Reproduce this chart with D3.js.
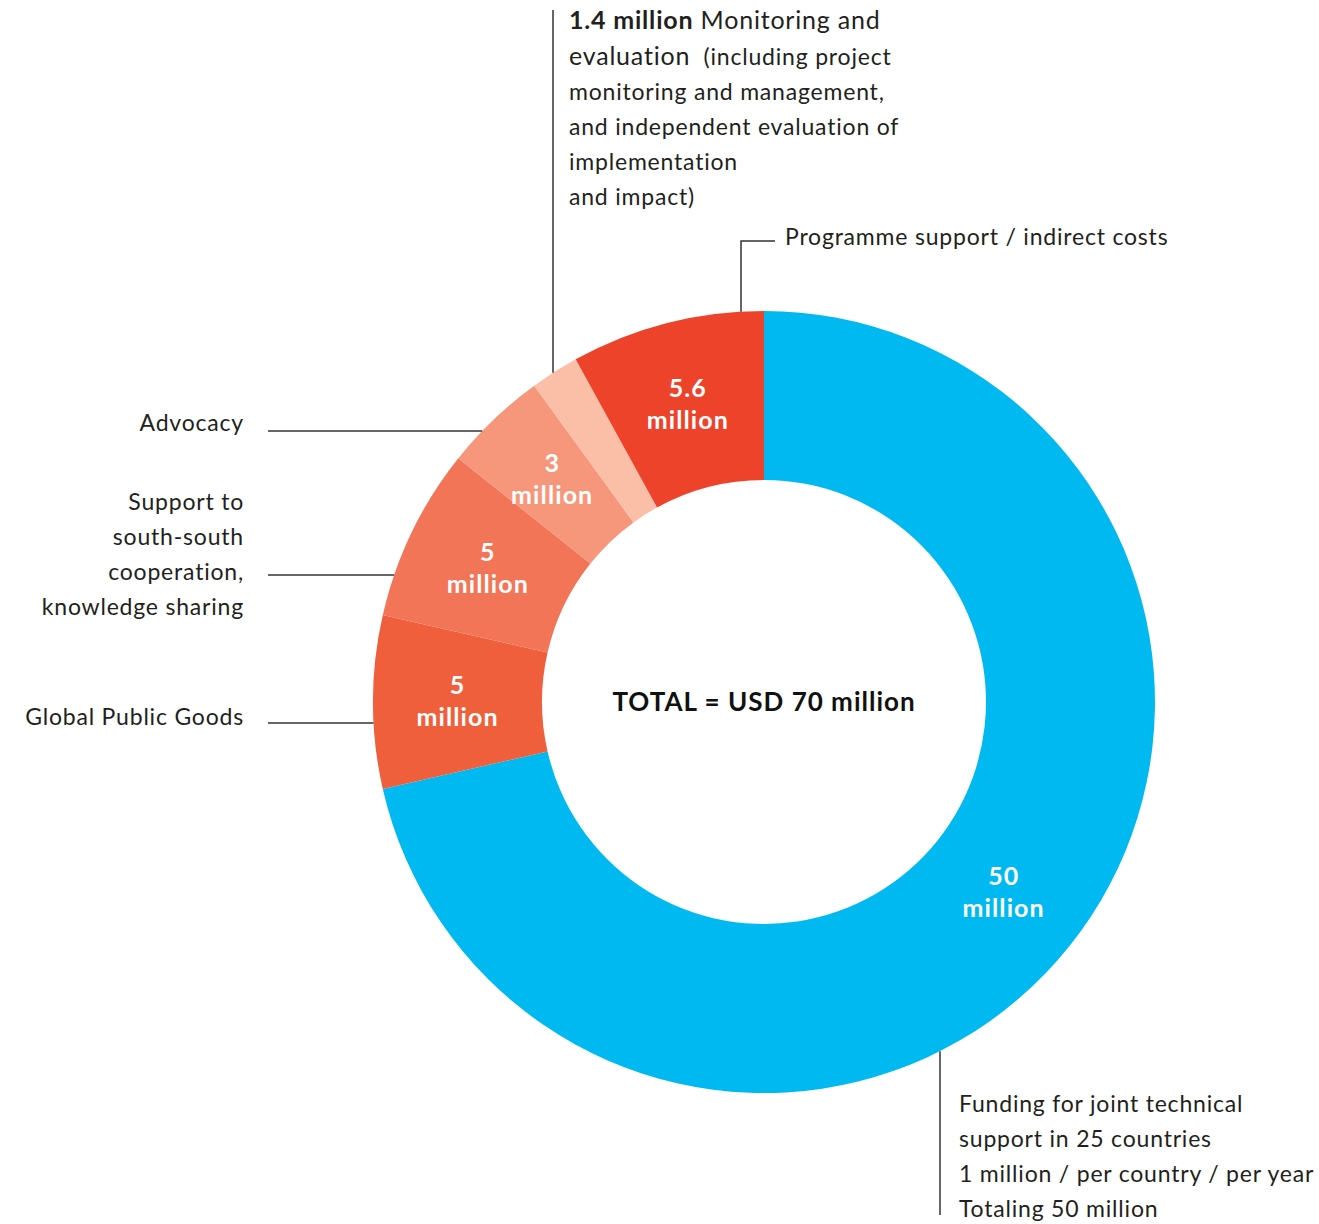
<!DOCTYPE html>
<html>
<head>
<meta charset="utf-8">
<script src="https://cdn.jsdelivr.net/npm/d3@7"></script>
<style>
  html, body { margin: 0; padding: 0; background: #ffffff; }
  svg { display: block; }
  text { font-family: Lato, "Noto Sans", sans-serif; }
</style>
</head>
<body>
<svg id="chart" width="1319" height="1224"></svg>
<script>
// ---- data ----
const categories = [
  "Funding for joint technical support",
  "Global Public Goods",
  "Support to south-south cooperation, knowledge sharing",
  "Advocacy",
  "Monitoring and evaluation",
  "Programme support / indirect costs"
];
const values = [50, 5, 5, 3, 1.4, 5.6];
const colors = ["#00B9F1", "#F05F3C", "#F37558", "#F6977B", "#FABFA6", "#EE432B"];
const valueLabels = ["50", "5", "5", "3", "", "5.6"];
const totalLabel = "TOTAL = USD 70 million";

// ---- layout ----
const svg = d3.select("#chart");
const cx = 764, cy = 702, R = 391, r = 222;
const g = svg.append("g").attr("transform", `translate(${cx},${cy})`);

const data = categories.map((c, i) => ({ name: c, value: values[i], color: colors[i], label: valueLabels[i] }));
const pie = d3.pie().value(d => d.value).sort(null);
const arc = d3.arc().innerRadius(r).outerRadius(R);
const arcs = pie(data);

g.selectAll("path.slice").data(arcs).join("path")
  .attr("class", "slice")
  .attr("d", arc)
  .attr("fill", d => d.data.color);

// value labels
const labelG = g.selectAll("g.vl").data(arcs.filter(d => d.data.label)).join("g")
  .attr("class", "vl")
  .attr("transform", d => { const c = arc.centroid(d); return `translate(${c[0]},${c[1]})`; });
labelG.append("text")
  .attr("text-anchor", "middle")
  .attr("fill", "#ffffff")
  .attr("font-weight", 700)
  .attr("font-size", 25)
  .attr("letter-spacing", 1)
  .attr("y", -8)
  .text(d => d.data.label);
labelG.append("text")
  .attr("text-anchor", "middle")
  .attr("fill", "#ffffff")
  .attr("font-weight", 700)
  .attr("font-size", 25)
  .attr("letter-spacing", 1.1)
  .attr("y", 24)
  .text("million");

// total
g.append("text")
  .attr("text-anchor", "middle")
  .attr("font-weight", 700)
  .attr("font-size", 26)
  .attr("letter-spacing", 1)
  .attr("fill", "#111")
  .attr("y", 9)
  .text(totalLabel);

// ---- annotations ----
const lineColor = "#333";
const textColor = "#231f20";
const ann = svg.append("g").attr("letter-spacing", 0.8);
const fs = 23;

function edgeX(y) { return cx - Math.sqrt(R * R - (y - cy) * (y - cy)); }
function edgeYTop(x) { return cy - Math.sqrt(R * R - (x - cx) * (x - cx)); }
function edgeYBottom(x) { return cy + Math.sqrt(R * R - (x - cx) * (x - cx)); }

function leftLabel(lines, lineY, baseY, lh) {
  ann.append("line").attr("x1", 268).attr("x2", edgeX(lineY)).attr("y1", lineY).attr("y2", lineY)
    .attr("stroke", lineColor).attr("stroke-width", 1.5);
  const t = ann.append("text").attr("text-anchor", "end").attr("font-size", fs).attr("fill", textColor);
  lines.forEach((l, i) => t.append("tspan").attr("x", 244).attr("y", baseY + i * lh).text(l));
}

leftLabel([categories[3]], 431, 431, 35);
leftLabel(["Support to", "south-south", "cooperation,", "knowledge sharing"], 575, 510, 35);
leftLabel([categories[1]], 723, 725, 35);

// Monitoring and evaluation
ann.append("line").attr("x1", 553).attr("x2", 553).attr("y1", 10).attr("y2", edgeYTop(553))
  .attr("stroke", lineColor).attr("stroke-width", 1.5);
const me = ann.append("text").attr("font-size", fs).attr("fill", textColor).style("white-space", "pre");
const l1 = me.append("tspan").attr("x", 569).attr("y", 29);
l1.append("tspan").attr("font-weight", 700).attr("font-size", 25).text("1.4 million");
l1.append("tspan").attr("font-size", 25).text(" Monitoring and");
const l2 = me.append("tspan").attr("x", 569).attr("y", 65);
l2.append("tspan").attr("font-size", 25).text("evaluation");
l2.append("tspan").text("  (including project");
["monitoring and management,", "and independent evaluation of", "implementation", "and impact)"]
  .forEach((l, i) => me.append("tspan").attr("x", 569).attr("y", 100 + i * 35).text(l));

// Programme support
ann.append("path")
  .attr("d", `M741,${edgeYTop(741)}V241H775`)
  .attr("fill", "none").attr("stroke", lineColor).attr("stroke-width", 1.5);
ann.append("text").attr("x", 785).attr("y", 245).attr("font-size", fs).attr("fill", textColor).text(categories[5]);

// Funding
ann.append("line").attr("x1", 940).attr("x2", 940).attr("y1", edgeYBottom(940)).attr("y2", 1215)
  .attr("stroke", lineColor).attr("stroke-width", 1.5);
const fu = ann.append("text").attr("font-size", fs).attr("fill", textColor);
["Funding for joint technical", "support in 25 countries", "1 million / per country / per year", "Totaling 50 million"]
  .forEach((l, i) => fu.append("tspan").attr("x", 959).attr("y", 1112 + i * 35).text(l));
</script>
</body>
</html>
